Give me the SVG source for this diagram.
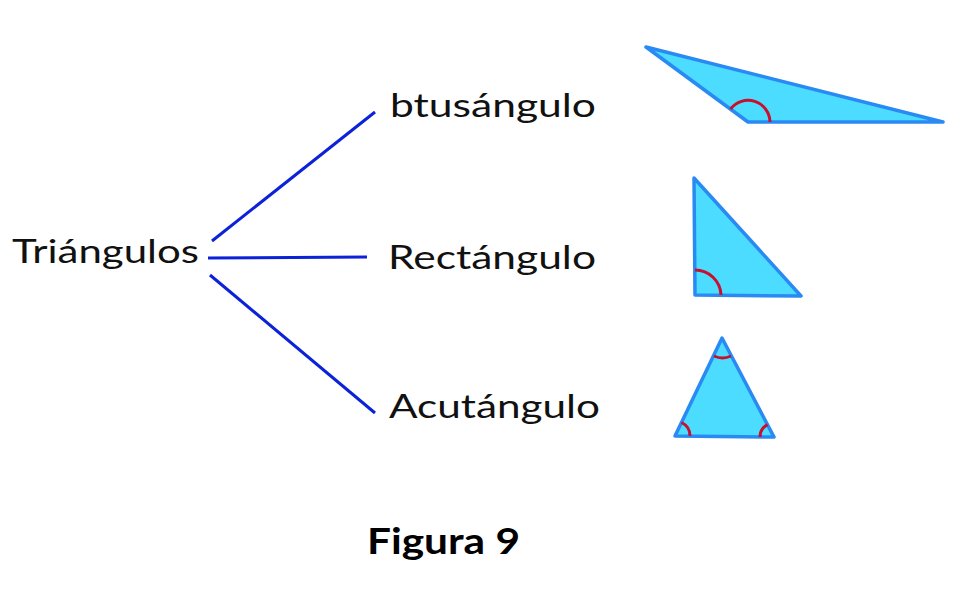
<svg xmlns="http://www.w3.org/2000/svg" width="961" height="593" viewBox="0 0 961 593">
<style>
.lbl{font-family:"Lato","Noto Sans","Liberation Sans",sans-serif;font-size:33px;fill:#111}
.con{stroke:#0b22d8;stroke-width:3;fill:none;stroke-linecap:butt}
.tri{fill:#4bdcff;stroke:#2a8af3;stroke-width:3.5;stroke-linejoin:round}
.arc{fill:none;stroke:#c8102e;stroke-width:3}
.title{font-family:"Lato","Noto Sans","Liberation Sans",sans-serif;font-size:37px;font-weight:bold;fill:#000}
</style>
<rect width="961" height="593" fill="#fff"/>
<g id="connectors">
<line class="con" x1="212" y1="241" x2="375" y2="112"/>
<line class="con" x1="208" y1="258" x2="367" y2="257"/>
<line class="con" x1="210" y1="275" x2="375" y2="413"/>
</g>
<g id="node-triangulos"><text class="lbl" x="12" y="263" textLength="187" lengthAdjust="spacingAndGlyphs">Triángulos</text></g>
<g id="node-obtusangulo"><text class="lbl" x="390" y="117" textLength="206" lengthAdjust="spacingAndGlyphs">btusángulo</text></g>
<g id="node-rectangulo"><text class="lbl" x="388" y="269" textLength="208" lengthAdjust="spacingAndGlyphs">Rectángulo</text></g>
<g id="node-acutangulo"><text class="lbl" x="389" y="418" textLength="211" lengthAdjust="spacingAndGlyphs">Acutángulo</text></g>
<g id="tri-obtuse">
<polygon class="tri" points="646,47 943,122 748,122"/>
<path class="arc" d="M730.5,109 A22,22 0 0 1 770,122"/>
</g>
<g id="tri-right">
<polygon class="tri" points="694,178 801,296 695,295"/>
<path class="arc" d="M695,270 A26,26 0 0 1 721,295"/>
</g>
<g id="tri-acute">
<polygon class="tri" points="722,338 774,437 675,436"/>
<path class="arc" d="M714,356 A20,20 0 0 0 731,356"/>
<path class="arc" d="M681.5,422.5 A15,15 0 0 1 690,436"/>
<path class="arc" d="M760,437 A14,14 0 0 1 767.5,424.6"/>
</g>
<g id="caption"><text class="title" x="367" y="554" textLength="153" lengthAdjust="spacingAndGlyphs">Figura 9</text></g>
</svg>
